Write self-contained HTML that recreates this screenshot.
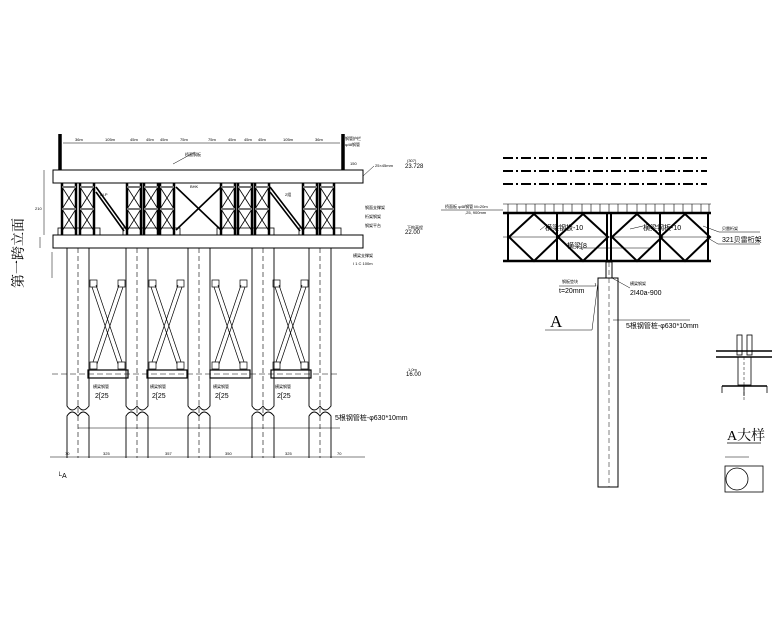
<!DOCTYPE html>
<html><head><meta charset="utf-8"><style>
html,body{margin:0;padding:0;background:#fff;}
svg{display:block;font-family:"Liberation Sans","Noto Sans CJK SC",sans-serif;}
</style></head><body>
<svg width="780" height="624" viewBox="0 0 780 624" xmlns="http://www.w3.org/2000/svg">
<defs>
<g id="tr">
 <rect x="0" y="0" width="14" height="52" fill="none" stroke="#000" stroke-width="0.8"/>
 <line x1="0" y1="0" x2="0" y2="52" stroke="#000" stroke-width="2.5"/>
 <line x1="14" y1="0" x2="14" y2="52" stroke="#000" stroke-width="2.5"/>
 <line x1="0" y1="4" x2="14" y2="26" stroke="#000" stroke-width="0.8"/>
 <line x1="14" y1="4" x2="0" y2="26" stroke="#000" stroke-width="0.8"/>
 <line x1="0" y1="26" x2="14" y2="48" stroke="#000" stroke-width="0.8"/>
 <line x1="14" y1="26" x2="0" y2="48" stroke="#000" stroke-width="0.8"/>
 <line x1="0" y1="26" x2="14" y2="26" stroke="#777" stroke-width="2"/>
 <line x1="0" y1="4" x2="14" y2="4" stroke="#777" stroke-width="2"/>
</g>
<g id="pile">
 <path d="M0,0 V158 Q5,166 11,158 Q16,166 22,158 V0" fill="none" stroke="#000" stroke-width="0.9"/>
 <path d="M0,210 V168 Q5,160 11,168 Q16,160 22,168 V210" fill="none" stroke="#000" stroke-width="0.9"/>
 <line x1="11" y1="0" x2="11" y2="210" stroke="#000" stroke-width="0.6" stroke-dasharray="5,3"/>
</g>
<g id="xb">
 <rect x="0" y="0" width="7" height="7" fill="none" stroke="#000" stroke-width="0.7"/>
 <rect x="28" y="0" width="7" height="7" fill="none" stroke="#000" stroke-width="0.7"/>
 <rect x="0" y="82" width="7" height="7" fill="none" stroke="#000" stroke-width="0.7"/>
 <rect x="28" y="82" width="7" height="7" fill="none" stroke="#000" stroke-width="0.7"/>
 <path d="M2,7 L28,84 M6,5 L32,82 M33,7 L7,84 M29,5 L3,82" stroke="#000" stroke-width="0.7" fill="none"/>
 <rect x="-2" y="90" width="40" height="8" fill="none" stroke="#000" stroke-width="1.2"/>
</g>
<g id="dia">
 <path d="M0,23 L25,0 L50,23 L25,47 Z" fill="none" stroke="#000" stroke-width="2"/>
</g>
</defs>

<!-- LEFT ELEVATION -->
<line x1="60" y1="134" x2="60" y2="170" stroke="#000" stroke-width="3.5"/>
<line x1="343" y1="134" x2="343" y2="170" stroke="#000" stroke-width="3.5"/>
<line x1="63" y1="143" x2="340" y2="143" stroke="#000" stroke-width="0.6"/>
<g font-size="4" fill="#000">
<text x="75" y="141">36m</text><text x="105" y="141">105m</text><text x="130" y="141">45m</text><text x="146" y="141">45m</text><text x="160" y="141">45m</text><text x="180" y="141">75m</text><text x="208" y="141">75m</text><text x="228" y="141">45m</text><text x="244" y="141">45m</text><text x="258" y="141">45m</text><text x="283" y="141">105m</text><text x="315" y="141">36m</text>
<text x="345" y="140">钢管护栏</text><text x="345" y="146">φ48钢管</text>
<text x="185" y="156">桥面钢板</text>
<text x="375" y="167">25×45mm</text>
<text x="350" y="165">150</text>
<text x="365" y="209">钢面支撑架</text><text x="365" y="218">桁架钢架</text><text x="365" y="227">钢架平台</text>
<text x="353" y="257">横梁支撑架</text><text x="353" y="265">I 1 C 100m</text>
<text x="100" y="196">BLP</text><text x="190" y="188">BHK</text><text x="285" y="196">2组</text>
<text x="407" y="162">(307)</text><text x="407" y="229">下构高程</text>
<text x="408" y="371">1.0m</text>
</g>
<g font-size="6" fill="#000"><text x="405" y="168">23.728</text><text x="405" y="234">22.00</text><text x="406" y="376">16.00</text></g>
<line x1="173" y1="164" x2="195" y2="152" stroke="#000" stroke-width="0.5"/>
<rect x="53" y="170" width="310" height="13" fill="#fff" stroke="#000" stroke-width="1"/>
<rect x="53" y="235" width="310" height="13" fill="#fff" stroke="#000" stroke-width="1"/>
<line x1="363" y1="176" x2="374" y2="166" stroke="#000" stroke-width="0.5"/>
<line x1="44" y1="170" x2="44" y2="235" stroke="#000" stroke-width="0.5"/>
<line x1="40" y1="237" x2="40" y2="248" stroke="#000" stroke-width="0.5"/>
<line x1="52" y1="252" x2="52" y2="278" stroke="#000" stroke-width="0.5"/>
<text x="35" y="210" font-size="4">210</text>
<!-- truss groups -->
<use href="#tr" x="62" y="183"/><use href="#tr" x="80" y="183"/>
<use href="#tr" x="127" y="183"/><use href="#tr" x="144" y="183"/><use href="#tr" x="160" y="183"/>
<use href="#tr" x="221" y="183"/><use href="#tr" x="238" y="183"/><use href="#tr" x="255" y="183"/>
<use href="#tr" x="303" y="183"/><use href="#tr" x="320" y="183"/>
<path d="M96,187 L127,230 M96,192 L124,231 M176,187 L221,230 M176,230 L221,187 M270,187 L303,230 M270,192 L300,231" stroke="#000" stroke-width="1.6" fill="none"/>
<g fill="none" stroke="#000" stroke-width="0.8">
<rect x="58" y="228" width="42" height="7"/><rect x="123" y="228" width="57" height="7"/><rect x="217" y="228" width="57" height="7"/><rect x="299" y="228" width="42" height="7"/>
</g>
<!-- piles -->
<use href="#pile" x="67" y="248"/><use href="#pile" x="126" y="248"/><use href="#pile" x="188" y="248"/><use href="#pile" x="252" y="248"/><use href="#pile" x="309" y="248"/>
<use href="#xb" x="90" y="280"/><use href="#xb" x="149" y="280"/><use href="#xb" x="212" y="280"/><use href="#xb" x="273" y="280"/>
<line x1="52" y1="374" x2="340" y2="374" stroke="#000" stroke-width="0.5" stroke-dasharray="6,3"/>
<line x1="78" y1="428" x2="340" y2="428" stroke="#000" stroke-width="0.5"/>
<g font-size="7" fill="#000"><text x="95" y="398">2[25</text><text x="152" y="398">2[25</text><text x="215" y="398">2[25</text><text x="277" y="398">2[25</text>
<text x="335" y="420">5根钢管桩-φ630*10mm</text><text x="57" y="478">└A</text></g>
<g font-size="4" fill="#000"><text x="93" y="388">横梁钢管</text><text x="150" y="388">横梁钢管</text><text x="213" y="388">横梁钢管</text><text x="275" y="388">横梁钢管</text>
<text x="65" y="455">70</text><text x="103" y="455">325</text><text x="165" y="455">357</text><text x="225" y="455">350</text><text x="285" y="455">325</text><text x="337" y="455">70</text></g>
<line x1="50" y1="457" x2="365" y2="457" stroke="#000" stroke-width="0.6"/>
<text x="0" y="0" font-size="14" fill="#000" transform="translate(23,253) rotate(-90)" font-family="Liberation Serif,Noto Serif CJK SC,serif" text-anchor="middle">第一跨立面</text>

<!-- RIGHT SECTION -->
<g stroke="#000" stroke-width="2" stroke-dasharray="10,3,2,3">
<line x1="503" y1="158" x2="707" y2="158"/><line x1="503" y1="171" x2="707" y2="171"/><line x1="503" y1="184" x2="707" y2="184"/>
</g>
<g stroke="#000" stroke-width="0.6">
<line x1="503" y1="204" x2="711" y2="204"/>
<path d="M508,204v8M517,204v8M526,204v8M535,204v8M545,204v8M554,204v8M563,204v8M572,204v8M582,204v8M591,204v8M600,204v8M609,204v8M618,204v8M627,204v8M637,204v8M646,204v8M655,204v8M664,204v8M674,204v8M683,204v8M692,204v8M701,204v8M709,204v8"/>
</g>
<line x1="503" y1="213" x2="711" y2="213" stroke="#000" stroke-width="2.5"/>
<line x1="503" y1="261" x2="711" y2="261" stroke="#000" stroke-width="2.5"/>
<line x1="503" y1="237" x2="711" y2="237" stroke="#000" stroke-width="0.5"/>
<g stroke="#000" stroke-width="2"><line x1="508" y1="213" x2="508" y2="261"/><line x1="557" y1="213" x2="557" y2="261"/><line x1="607" y1="213" x2="607" y2="261"/><line x1="611" y1="213" x2="611" y2="261"/><line x1="660" y1="213" x2="660" y2="261"/><line x1="708" y1="213" x2="708" y2="261"/></g>
<use href="#dia" x="509" y="214"/><use href="#dia" x="558" y="214"/><use href="#dia" x="612" y="214"/><use href="#dia" x="660" y="214"/>
<g font-size="7" fill="#000"><text x="545" y="230">横梁钢板-10</text><text x="643" y="230">横梁钢板-10</text><text x="567" y="248">横梁[8</text><text x="722" y="242">321贝雷桁架</text>
<text x="559" y="293">t=20mm</text><text x="630" y="295">2I40a-900</text><text x="626" y="328">5根钢管桩-φ630*10mm</text></g>
<g font-size="4" fill="#000"><text x="445" y="208">桥面板 φ48钢管 M=20m</text><text x="465" y="214">,25, 900mm</text><text x="722" y="230">贝雷桁架</text><text x="562" y="283">钢板垫块</text><text x="630" y="285">横梁钢架</text></g>
<line x1="441" y1="210" x2="503" y2="210" stroke="#000" stroke-width="0.5"/>
<path d="M540,230 L545,226 M630,229 L643,226 M703,226 L719,232 L760,232 M706,237 L718,244 L760,244 M580,248 L650,248" stroke="#000" stroke-width="0.5" fill="none"/>
<rect x="606" y="262" width="6" height="16" fill="none" stroke="#000" stroke-width="1"/>
<rect x="598" y="278" width="20" height="209" fill="none" stroke="#000" stroke-width="1"/>
<line x1="609" y1="262" x2="609" y2="487" stroke="#000" stroke-width="0.5" stroke-dasharray="5,3"/>
<path d="M559,286 L596,286 L595,283 M612,278 L630,288 M613,320 L690,320 M545,330 L592,330 L598,282" stroke="#000" stroke-width="0.5" fill="none"/>
<text x="550" y="327" font-size="17" fill="#000" font-family="Liberation Serif,serif">A</text>

<!-- DETAIL A -->
<g stroke="#000" fill="none" stroke-width="0.8">
<line x1="716" y1="351" x2="772" y2="351" stroke-width="1.5"/><line x1="716" y1="357" x2="772" y2="357" stroke-width="1.5"/>
<rect x="737" y="335" width="5" height="20"/><rect x="747" y="335" width="5" height="20"/>
<rect x="738" y="357" width="13" height="28"/>
<line x1="722" y1="386" x2="767" y2="386" stroke-width="1.5"/>
<path d="M722,386v7M767,386v7M744,386v10"/>
<line x1="744" y1="357" x2="744" y2="400" stroke-dasharray="3,2" stroke-width="0.5"/>
<rect x="725" y="466" width="38" height="26"/>
<circle cx="737" cy="479" r="11"/>
<line x1="725" y1="457" x2="749" y2="457" stroke-width="0.5"/>
<line x1="727" y1="443" x2="761" y2="443" stroke-width="0.7"/>
</g>
<text x="727" y="440" font-size="14" fill="#000" font-family="Liberation Serif,Noto Serif CJK SC,serif">A大样</text>
</svg>
</body></html>
